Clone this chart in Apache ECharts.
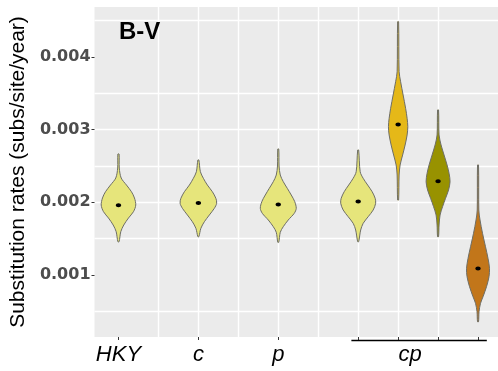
<!DOCTYPE html>
<html><head><meta charset="utf-8">
<script src="https://cdn.jsdelivr.net/npm/echarts@6/dist/echarts.min.js"></script>
<style>html,body{margin:0;padding:0;background:#fff}#c{width:498px;height:371px}</style>
</head><body><div id="c"></div>
<script>
// ---- data ----
const groupLabels   = ['HKY', 'c', 'p', 'cp'];
const groupLabelPos = [1, 3, 5, 8.3];
const violinPos     = [1, 3, 5, 7, 8, 9, 10];
const gridLinesX    = [1, 2, 3, 4, 5, 6, 7, 8, 9, 10];
const yTicks        = [0.001, 0.002, 0.003, 0.004];
const medians       = [0.00196, 0.00199, 0.00197, 0.00201, 0.00307, 0.00229, 0.00109];
const cpBracket     = [6.83, 10.22];

const rates_HKY = [0.002665, 0.002472, 0.002335, 0.002238, 0.002146, 0.00206, 0.001963, 0.001871, 0.001784, 0.001688, 0.001596, 0.001458];
const dens_HKY  = [0.03, 0.04, 0.135, 0.40, 0.65, 0.80, 0.865, 0.75, 0.50, 0.265, 0.115, 0.03];
const rates_c   = [0.002583, 0.002421, 0.002331, 0.002238, 0.002146, 0.002056, 0.001987, 0.001918, 0.001826, 0.001733, 0.001643, 0.001527];
const dens_c    = [0.025, 0.10, 0.25, 0.45, 0.70, 0.875, 0.915, 0.80, 0.55, 0.30, 0.125, 0.025];
const rates_p   = [0.002734, 0.0025, 0.002376, 0.002284, 0.002193, 0.002101, 0.002009, 0.001918, 0.001849, 0.001757, 0.001665, 0.001588, 0.00145];
const dens_p    = [0.025, 0.04, 0.10, 0.25, 0.45, 0.65, 0.825, 0.90, 0.80, 0.50, 0.25, 0.10, 0.025];
const rates_cp1 = [0.00272, 0.002421, 0.002331, 0.002238, 0.002146, 0.002056, 0.001987, 0.001894, 0.001802, 0.001711, 0.001619, 0.001458];
const dens_cp1  = [0.025, 0.10, 0.25, 0.475, 0.70, 0.85, 0.875, 0.75, 0.50, 0.25, 0.125, 0.025];
const rates_cp2 = [0.004486, 0.003798, 0.00366, 0.003477, 0.003294, 0.003156, 0.003041, 0.002927, 0.002789, 0.002651, 0.002514, 0.002376, 0.002032];
const dens_cp2  = [0.025, 0.05, 0.125, 0.25, 0.375, 0.45, 0.485, 0.45, 0.35, 0.225, 0.10, 0.05, 0.025];
const rates_cp3 = [0.003271, 0.002927, 0.002789, 0.002651, 0.002514, 0.0024, 0.002284, 0.00217, 0.002056, 0.00194, 0.001826, 0.001688, 0.001527];
const dens_cp3  = [0.025, 0.05, 0.15, 0.30, 0.45, 0.55, 0.60, 0.525, 0.375, 0.225, 0.10, 0.05, 0.025];
const rates_cp4 = [0.002514, 0.001894, 0.001757, 0.001574, 0.001389, 0.00123, 0.001092, 0.000977, 0.000839, 0.000701, 0.000611, 0.000495, 0.000357];
const dens_cp4  = [0.025, 0.04, 0.10, 0.225, 0.375, 0.50, 0.575, 0.55, 0.425, 0.25, 0.125, 0.05, 0.025];

// ---- styling / layout ----
const allRates = [rates_HKY, rates_c, rates_p, rates_cp1, rates_cp2, rates_cp3, rates_cp4];
const allDens  = [dens_HKY, dens_c, dens_p, dens_cp1, dens_cp2, dens_cp3, dens_cp4];
const fills = ['#E6E57B', '#E6E57B', '#E6E57B', '#E6E57B', '#E5B818', '#989200', '#C2761A'];
const X_MIN = 0.4, X_MAX = 10.5, Y_MIN = 0.000147, Y_MAX = 0.004688;
const WIDTH_SCALE = 0.5;

const violinData = violinPos.map((x, i) => [x, medians[i], i]);

const chart = echarts.init(document.getElementById('c'), null, {renderer: 'canvas'});
chart.setOption({
  animation: false,
  backgroundColor: '#ffffff',
  title: {
    text: 'B-V', left: 119, top: 20, padding: 0,
    textStyle: {fontFamily: 'Liberation Sans', fontWeight: 'bold', fontSize: 24, color: '#000'}
  },
  grid: {left: 94, right: 0, top: 7, bottom: 34, show: true, backgroundColor: '#EBEBEB', borderWidth: 0},
  xAxis: [
    {
      type: 'value', min: X_MIN, max: X_MAX, position: 'bottom', splitNumber: 10,
      axisLine: {show: false},
      axisTick: {show: false, customValues: gridLinesX},
      axisLabel: {show: false},
      splitLine: {show: true, showMinLine: false, showMaxLine: false, lineStyle: {color: '#ffffff', width: 1.4}}
    },
    {
      type: 'value', min: X_MIN, max: X_MAX, position: 'bottom',
      axisLine: {show: false},
      axisTick: {show: true, customValues: violinPos, length: 3, lineStyle: {color: '#333333', width: 1}},
      axisLabel: {
        show: true, customValues: groupLabelPos, margin: 7,
        formatter: v => { const k = groupLabelPos.findIndex(p => Math.abs(p - v) < 1e-6); return k >= 0 ? groupLabels[k] : ''; },
        fontFamily: 'Liberation Sans', fontStyle: 'italic', fontSize: 22, color: '#000'
      },
      splitLine: {show: false}
    }
  ],
  yAxis: {
    type: 'value', min: Y_MIN, max: Y_MAX, splitNumber: 5,
    axisLine: {show: false},
    axisTick: {show: true, customValues: yTicks, length: 3, lineStyle: {color: '#333333', width: 1}},
    axisLabel: {
      customValues: yTicks, margin: 4, formatter: v => v.toFixed(3),
      fontFamily: 'DejaVu Sans', fontWeight: 'bold', fontSize: 16, color: '#4D4D4D'
    },
    splitLine: {show: true, showMinLine: false, showMaxLine: false, lineStyle: {color: '#ffffff', width: 1.4}},
    minorTick: {show: false, splitNumber: 2},
    minorSplitLine: {show: true, lineStyle: {color: '#ffffff', width: 1.4}},
    name: 'Substitution rates (subs/site/year)', nameLocation: 'middle', nameGap: 59,
    nameTextStyle: {fontFamily: 'Liberation Sans', fontSize: 21, color: '#000'}
  },
  series: [
    {
      type: 'custom', xAxisIndex: 0, yAxisIndex: 0,
      data: violinData,
      encode: {x: 0, y: 1},
      renderItem: (params, api) => {
        const x = api.value(0), med = api.value(1), i = api.value(2);
        const rates = allRates[i], dens = allDens[i];
        const right = rates.map((r, j) => api.coord([x + dens[j] * WIDTH_SCALE, r]));
        const left = rates.map((r, j) => api.coord([x - dens[j] * WIDTH_SCALE, r])).reverse();
        const c = api.coord([x, med]);
        return {
          type: 'group',
          children: [
            {type: 'polygon', shape: {points: right.concat(left), smooth: 0.3},
             style: {fill: fills[i], stroke: '#6E6E66', lineWidth: 1}},
            {type: 'ellipse', shape: {cx: c[0], cy: c[1], rx: 2.7, ry: 2}, style: {fill: '#000'}}
          ]
        };
      }
    },
    {
      type: 'custom', xAxisIndex: 0, yAxisIndex: 0, clip: false,
      data: [[cpBracket[0], cpBracket[1], Y_MIN]],
      encode: {x: [0, 1], y: 2},
      renderItem: (params, api) => {
        const a = api.coord([api.value(0), api.value(2)]);
        const b = api.coord([api.value(1), api.value(2)]);
        return {type: 'line', shape: {x1: a[0], y1: a[1] + 3.5, x2: b[0], y2: b[1] + 3.5},
                style: {stroke: '#000', lineWidth: 1.6}};
      }
    }
  ]
});
</script></body></html>
